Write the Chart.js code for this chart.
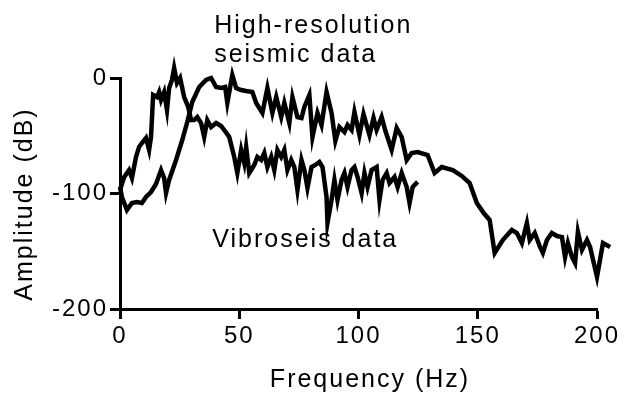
<!DOCTYPE html>
<html>
<head>
<meta charset="utf-8">
<script src="https://cdn.jsdelivr.net/npm/chart.js@4.4.1/dist/chart.umd.min.js"></script>
<style>
    html, body { margin: 0; padding: 0; background: #fff; }
    canvas { display: block; }
</style>
</head>
<body>
<canvas id="spectrum" width="629" height="398"></canvas>
<script>
// Vibroseis data (early peak, ends near 125 Hz)
const vibroFreq = [0, 1.7, 3.8, 5.0, 6.7, 8.0, 9.2, 10.9, 12.2, 13.0, 13.9, 15.5, 16.4, 17.2, 18.5, 19.7, 20.6, 21.8, 22.7, 23.9,
    25.2, 26.9, 28.6, 29.8, 31.1, 32.4, 34.0, 35.3, 36.6, 38.2, 40.3, 42.4, 43.7, 45.8, 47.9, 49.2, 50.8, 52.1, 52.9, 54.2,
    56.3, 57.6, 59.2, 60.5, 61.8, 63.4, 64.7, 66.0, 67.6, 68.9, 70.2, 71.8, 73.1, 74.4, 76.1, 77.3, 78.6, 80.3, 81.9, 83.6,
    84.9, 86.6, 87.0, 88.7, 89.9, 91.2, 92.9, 94.1, 95.4, 97.1, 98.3, 99.6, 101.3, 102.5, 103.8, 105.5, 107.6, 108.8, 110.1, 111.8,
    113.0, 115.1, 116.4, 118.1, 120.2, 121.4, 122.7, 124.8];
const vibroDb = [-97, -86, -79.7, -86.6, -68.4, -59.7, -56.3, -51.9, -62.3, -51.1, -14.7, -16.5, -12.1, -19, -12.1, -27.7, -8.7, -1.7, 8.7, -4.3,
    0, -16.5, -25.1, -36.4, -36.4, -33.8, -39, -51.1, -36.4, -42.4, -39, -41.6, -45, -51.1, -68.4, -82.3, -62.3, -73.6, -59.7, -82.3,
    -75.3, -68.4, -71, -64.9, -77.1, -68.4, -79.7, -62.3, -68.4, -62.3, -79.7, -71, -77.1, -97, -71, -79.7, -95.2, -77.1, -75.3, -72.7,
    -77.1, -103, -125.5, -105.6, -88.3, -105.6, -88.3, -82.3, -94.4, -79.7, -77.1, -85.7, -99.6, -82.3, -94.4, -79.7, -77.1, -105.6, -88.3, -82.3,
    -90.9, -85.7, -94.4, -82.3, -94.4, -108.2, -94.4, -90];

// High-resolution seismic data (peak near 45 Hz, runs past 200 Hz)
const hiresFreq = [0, 0.8, 2.9, 5.0, 7.1, 9.2, 10.9, 13.0, 15.1, 17.2, 18.5, 19.3, 20.6, 23.5, 26.1, 28.2, 30.3, 33.2, 36.1, 38.2,
    40.3, 42.4, 44.1, 45.0, 47.1, 48.7, 50.8, 52.9, 55.5, 57.1, 59.7, 61.8, 63.9, 65.5, 67.6, 68.9, 71.0, 72.3, 74.4, 76.1,
    77.3, 79.4, 80.7, 82.8, 84.5, 86.6, 88.7, 90.3, 92.0, 94.1, 95.4, 97.1, 98.3, 100.4, 102.1, 104.6, 106.3, 107.6, 109.7, 111.3,
    113.9, 116.0, 118.1, 120.2, 122.3, 124.8, 129.0, 131.9, 134.9, 139.5, 143.3, 146.6, 149.6, 152.5, 155.0, 157.1, 160.5, 164.3, 166.4, 168.5,
    170.6, 171.8, 173.9, 176.1, 177.3, 179.0, 181.1, 183.2, 185.3, 186.6, 187.8, 189.5, 190.8, 192.0, 193.7, 195.8, 197.1, 200.0, 202.5, 205.5];
const hiresDb = [-94.4, -103, -114.3, -108.2, -107.4, -108.2, -103, -98.7, -91.8, -79.7, -86.6, -99.6, -88.3, -71, -53.7, -38.1, -20.8, -7.8, -1.7, 0,
    -7.8, -8.7, -7.8, -21.6, 2.6, -8.7, -10.4, -11.3, -12.1, -21.6, -30.3, -8.7, -30.3, -16.5, -33.8, -21.6, -39, -16.5, -33.8, -34.6,
    -25.1, -14.7, -51.1, -30.3, -40.7, -12.1, -30.3, -54.5, -42.4, -46.8, -40.7, -45, -29.4, -49.4, -31.2, -49.4, -34.6, -45, -33.8, -45.9,
    -62.3, -43.3, -51.1, -71, -64.9, -64.1, -66.7, -82.3, -77.1, -79.7, -84.8, -90.9, -108.2, -116.9, -122.9, -151.5, -140.3, -131.6, -134.2, -142.9,
    -125.5, -140.3, -134.2, -146.3, -151.5, -140.3, -134.2, -136.8, -137.7, -155, -142.9, -155, -160.2, -133.3, -148.9, -140.3, -146.3, -172.3, -142.9, -146.3];

const xTicks = [0, 50, 100, 150, 200];
const yTicks = [-200, -100, 0];

const xTitle = "Frequency (Hz)";
const yTitle = "Amplitude (dB)";

// curve labels, anchored in data units (Hz, dB)
const noteText = ["High-resolution", "seismic data", "Vibroseis data"];
const noteFreq = [39.5, 39.5, 38.7];
const noteDb = [39, 14, -146];

const FONT = '"Liberation Sans", Arial, Helvetica, sans-serif';

function toPoints(xs, ys) {
    return xs.map((x, i) => ({ x: x, y: ys[i] }));
}

const textPlugin = {
    id: "textPlugin",
    beforeDraw(chart) {
        chart.ctx.letterSpacing = "2px";
    },
    afterDraw(chart) {
        const ctx = chart.ctx;
        const sx = chart.scales.x;
        const sy = chart.scales.y;
        ctx.save();
        ctx.letterSpacing = "2px";
        ctx.fillStyle = "#000";
        ctx.font = "25px " + FONT;
        ctx.textAlign = "left";
        ctx.textBaseline = "alphabetic";
        noteText.forEach((t, i) => {
            ctx.fillText(t, sx.getPixelForValue(noteFreq[i]), sy.getPixelForValue(noteDb[i]));
        });

        // axis titles
        ctx.textAlign = "center";
        ctx.fillText(xTitle, 370, 387);
        ctx.translate(32, 204);
        ctx.rotate(-Math.PI / 2);
        ctx.fillText(yTitle, 0, 0);
        ctx.restore();
    },
};

const axisStyle = {
    grid: {
        display: true,
        drawOnChartArea: false,
        drawTicks: true,
        tickLength: 10,
        tickWidth: 3,
        tickColor: "#000",
    },
    border: {
        display: true,
        color: "#000",
        width: 3,
    },
};

new Chart(document.getElementById("spectrum"), {
    type: "line",
    data: {
        datasets: [
            {
                label: "Vibroseis data",
                data: toPoints(vibroFreq, vibroDb),
                borderColor: "#000",
                borderWidth: 4.5,
                pointRadius: 0,
                tension: 0,
                clip: false,
            },
            {
                label: "High-resolution seismic data",
                data: toPoints(hiresFreq, hiresDb),
                borderColor: "#000",
                borderWidth: 4.5,
                pointRadius: 0,
                tension: 0,
                clip: false,
            },
        ],
    },
    options: {
        responsive: false,
        animation: false,
        devicePixelRatio: 1,
        layout: {
            padding: { top: 78, right: 32, bottom: 0, left: 0 },
        },
        plugins: {
            legend: { display: false },
            tooltip: { enabled: false },
        },
        scales: {
            x: {
                type: "linear",
                // range set after data limits so points past 200 Hz are still drawn
                afterDataLimits: (s) => { s.min = 0; s.max = 200; },
                afterFit: (s) => { s.height = 89; },
                afterBuildTicks: (s) => { s.ticks = xTicks.map((v) => ({ value: v })); },
                ticks: {
                    color: "#000",
                    padding: 3,
                    font: { family: FONT, size: 24 },
                    maxRotation: 0,
                },
                ...axisStyle,
            },
            y: {
                type: "linear",
                afterDataLimits: (s) => { s.min = -200; s.max = 0; },
                afterFit: (s) => { s.width = 120; },
                afterBuildTicks: (s) => { s.ticks = yTicks.map((v) => ({ value: v })); },
                ticks: {
                    color: "#000",
                    padding: 2,
                    font: { family: FONT, size: 24 },
                },
                ...axisStyle,
            },
        },
    },
    plugins: [textPlugin],
});
</script>
</body>
</html>
